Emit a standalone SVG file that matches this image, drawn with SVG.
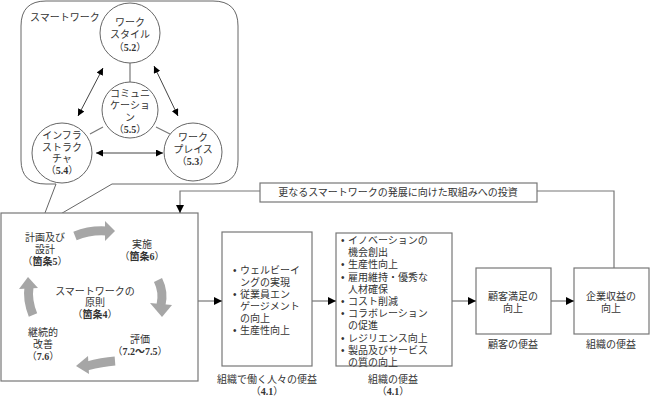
<svg xmlns="http://www.w3.org/2000/svg" width="650" height="403" viewBox="0 0 650 403">
<style>
text{font-family:"Liberation Sans","Noto Sans CJK JP",sans-serif;font-size:10px;fill:#333;text-anchor:middle}
.s{text-anchor:start}
.b{font-family:"Liberation Serif","Noto Sans CJK JP",serif;font-weight:bold}
.box{fill:#fff;stroke:#777;stroke-width:1.2}
.ln{fill:none;stroke:#777;stroke-width:1.2}
.c{fill:#fff;stroke:#666;stroke-width:1}
.da{fill:none;stroke:#444;stroke-width:1;marker-start:url(#ah);marker-end:url(#ah)}
.g{fill:none;stroke:#a6a6a6;stroke-width:9}
.gh{fill:#a6a6a6}
</style>
<defs>
<marker id="ah" viewBox="0 0 10 10" refX="10" refY="5" markerWidth="7" markerHeight="7" orient="auto-start-reverse" markerUnits="userSpaceOnUse"><path d="M0,0L10,5L0,10z" fill="#000"/></marker>
<marker id="ar" viewBox="0 0 10 10" refX="10" refY="5" markerWidth="8" markerHeight="8" orient="auto" markerUnits="userSpaceOnUse"><path d="M0,0L10,5L0,10z" fill="#000"/></marker>
</defs>

<g id="callout">
<path d="M46,1 H213 Q238,1 238,26 V160 Q238,184 213,184 H112 L40,226 L56,184 H46 Q21,184 21,160 V26 Q21,1 46,1 Z" fill="#fff" stroke="#666" stroke-width="1"/>
<text x="30" y="21" class="s">スマートワーク</text>
</g>

<g id="smart-lines">
<line x1="130" y1="63" x2="130" y2="82" class="ln"/>
<line x1="103" y1="127" x2="90" y2="134" class="ln"/>
<line x1="156" y1="127" x2="170" y2="134" class="ln"/>
<line x1="103" y1="68" x2="78" y2="116" class="da"/>
<line x1="154" y1="66" x2="178" y2="116" class="da"/>
<line x1="96" y1="153" x2="163" y2="153" class="da"/>
</g>

<g id="n-workstyle">
<circle cx="130" cy="33" r="30" class="c"/>
<text x="130" y="26">ワーク</text>
<text x="130" y="38">スタイル</text>
<text x="130" y="51">（<tspan class="b">5.2</tspan>）</text>
</g>
<g id="n-comm">
<circle cx="130" cy="110" r="28" class="c"/>
<text x="130" y="97">コミュニ</text>
<text x="130" y="109">ケーショ</text>
<text x="130" y="121">ン</text>
<text x="130" y="133">（<tspan class="b">5.5</tspan>）</text>
</g>
<g id="n-infra">
<circle cx="62" cy="153" r="30" class="c"/>
<text x="62" y="139">インフラ</text>
<text x="62" y="151">ストラク</text>
<text x="62" y="162">チャ</text>
<text x="62" y="174">（<tspan class="b">5.4</tspan>）</text>
</g>
<g id="n-workplace">
<circle cx="193" cy="152" r="29" class="c"/>
<text x="193" y="141">ワーク</text>
<text x="193" y="153">プレイス</text>
<text x="193" y="165">（<tspan class="b">5.3</tspan>）</text>
</g>

<g id="n-cycle">
<rect x="1" y="213" width="197" height="168" class="box"/>
<text x="45" y="241">計画及び</text>
<text x="45" y="253">設計</text>
<text x="45" y="265">（<tspan font-weight="bold">箇条<tspan class="b">5</tspan></tspan>）</text>
<text x="142" y="248">実施</text>
<text x="142" y="260">（<tspan font-weight="bold">箇条<tspan class="b">6</tspan></tspan>）</text>
<text x="95" y="295">スマートワークの</text>
<text x="95" y="306">原則</text>
<text x="95" y="318">（<tspan font-weight="bold">箇条<tspan class="b">4</tspan></tspan>）</text>
<text x="43" y="336">継続的</text>
<text x="43" y="348">改善</text>
<text x="43" y="360">（<tspan class="b">7.6</tspan>）</text>
<text x="140" y="343">評価</text>
<text x="140" y="355">（<tspan class="b">7.2～7.5</tspan>）</text>
<path d="M75,236 Q90,230 106,231" class="g"/>
<path d="M105,221 L115,231 L105,241 Z" class="gh"/>
<path d="M158,280 Q164,292 161,305" class="g"/>
<path d="M150,303 L172,305 L162,317 Z" class="gh"/>
<path d="M115,361 Q102,362 87,366" class="g"/>
<path d="M88,356 L76,366 L89,374 Z" class="gh"/>
<path d="M33,315 Q27,300 29,287" class="g"/>
<path d="M19,289 L28,277 L38,288 Z" class="gh"/>
</g>

<g id="n-people">
<rect x="222" y="232" width="90" height="134" class="box"/>
<text x="233" y="274" class="s">•</text><text x="240" y="274" class="s">ウェルビーイ</text>
<text x="240" y="286" class="s">ングの実現</text>
<text x="233" y="298" class="s">•</text><text x="240" y="298" class="s">従業員エン</text>
<text x="240" y="310" class="s">ゲージメント</text>
<text x="240" y="322" class="s">の向上</text>
<text x="233" y="334" class="s">•</text><text x="240" y="334" class="s">生産性向上</text>
<text x="267" y="383">組織で働く人々の便益</text>
<text x="267" y="395">（<tspan class="b">4.1</tspan>）</text>
</g>

<g id="n-org">
<rect x="336" y="233" width="116" height="133" class="box"/>
<text x="341" y="244" class="s">•</text><text x="348" y="244" class="s">イノベーションの</text>
<text x="348" y="256" class="s">機会創出</text>
<text x="341" y="268" class="s">•</text><text x="348" y="268" class="s">生産性向上</text>
<text x="341" y="281" class="s">•</text><text x="348" y="281" class="s">雇用維持・優秀な</text>
<text x="348" y="293" class="s">人材確保</text>
<text x="341" y="305" class="s">•</text><text x="348" y="305" class="s">コスト削減</text>
<text x="341" y="317" class="s">•</text><text x="348" y="317" class="s">コラボレーション</text>
<text x="348" y="329" class="s">の促進</text>
<text x="341" y="342" class="s">•</text><text x="348" y="342" class="s">レジリエンス向上</text>
<text x="341" y="354" class="s">•</text><text x="348" y="354" class="s">製品及びサービス</text>
<text x="348" y="366" class="s">の質の向上</text>
<text x="393" y="383">組織の便益</text>
<text x="393" y="395">（<tspan class="b">4.1</tspan>）</text>
</g>

<g id="n-customer">
<rect x="476" y="268" width="75" height="66" class="box"/>
<text x="513" y="300">顧客満足の</text>
<text x="513" y="312">向上</text>
<text x="513" y="348">顧客の便益</text>
</g>

<g id="n-profit">
<rect x="574" y="268" width="75" height="66" class="box"/>
<text x="611" y="300">企業収益の</text>
<text x="611" y="312">向上</text>
<text x="611" y="348">組織の便益</text>
</g>

<g id="n-invest">
<rect x="260" y="183" width="277" height="19" class="box"/>
<text x="398" y="196" font-size="10.5">更なるスマートワークの発展に向けた取組みへの投資</text>
</g>

<g id="connectors">
<line x1="198" y1="301" x2="222" y2="301" class="ln" marker-end="url(#ar)"/>
<line x1="312" y1="301" x2="336" y2="301" class="ln" marker-end="url(#ar)"/>
<line x1="452" y1="301" x2="476" y2="301" class="ln" marker-end="url(#ar)"/>
<line x1="551" y1="301" x2="574" y2="301" class="ln" marker-end="url(#ar)"/>
<polyline points="614,268 614,191 537,191" class="ln"/>
<polyline points="260,191 180,191 180,213" class="ln" marker-end="url(#ar)"/>
</g>
</svg>
